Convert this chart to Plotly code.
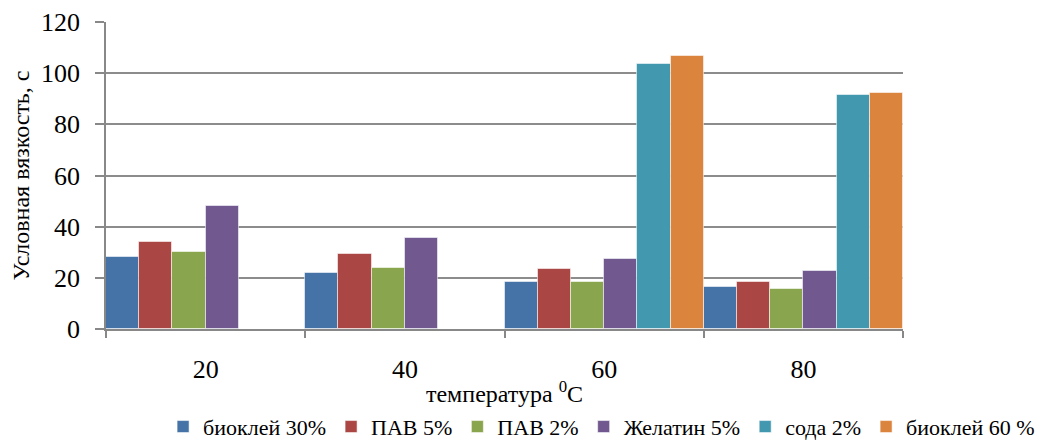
import plotly.graph_objects as go

categories = ["20", "40", "60", "80"]
series_names = ["биоклей 30%", "ПАВ 5%", "ПАВ 2%", "Желатин 5%", "сода 2%", "биоклей 60 %"]
bioclay30 = [28.0, 22.0, 18.4, 16.5]
pav5 = [34.1, 29.3, 23.3, 18.4]
pav2 = [30.0, 23.8, 18.4, 15.5]
gelatin5 = [48.2, 35.5, 27.5, 22.7]
soda2 = [None, None, 103.6, 91.4]
bioclay60 = [None, None, 106.7, 92.1]
colors = ["#4572A7", "#AA4643", "#89A54E", "#71588F", "#4198AF", "#DB843D"]

all_values = [bioclay30, pav5, pav2, gelatin5, soda2, bioclay60]

fig = go.Figure()
for name, vals, col in zip(series_names, all_values, colors):
    fig.add_trace(go.Bar(
        x=categories, y=vals, name=name,
        marker=dict(color=col, line=dict(color="rgba(255,255,255,0.55)", width=1)),
    ))

font_family = "Times New Roman, Liberation Serif, serif"
fig.update_layout(
    width=1035, height=433,
    barmode="group", bargap=0, bargroupgap=0,
    plot_bgcolor="white", paper_bgcolor="white",
    margin=dict(l=98, r=140, t=14, b=112, autoexpand=False),
    font=dict(family=font_family, color="black", size=20),
    showlegend=True,
    legend=dict(
        orientation="h", xref="paper", yref="paper",
        x=1.172, xanchor="right", y=-0.250, yanchor="top",
        font=dict(family=font_family, size=22, color="black"),
        itemwidth=30, tracegroupgap=0, bgcolor="rgba(0,0,0,0)",
    ),
)
fig.update_xaxes(
    type="category", tickson="boundaries", ticks="outside", ticklen=7,
    tickcolor="#888888", tickwidth=1.5, automargin=True,
    showline=True, linecolor="#888888", linewidth=1.5,
    tickfont=dict(family=font_family, size=26, color="black"),
    ticklabelstandoff=16,
    title=dict(text="температура <sup>0</sup>C", standoff=2,
               font=dict(family=font_family, size=24, color="black")),
    showgrid=False,
)
fig.update_yaxes(
    range=[0, 120], dtick=20, tick0=0, automargin=True,
    ticks="outside", ticklen=9, tickcolor="#888888", tickwidth=1.5,
    showline=True, linecolor="#888888", linewidth=1.5,
    showgrid=True, gridcolor="#8c8c8c", gridwidth=1.5,
    zeroline=False,
    tickfont=dict(family=font_family, size=26, color="black"),
    ticklabelstandoff=10,
    title=dict(text="Условная вязкость, с", standoff=10,
               font=dict(family=font_family, size=24, color="black")),
)

fig.write_html("out.html")
